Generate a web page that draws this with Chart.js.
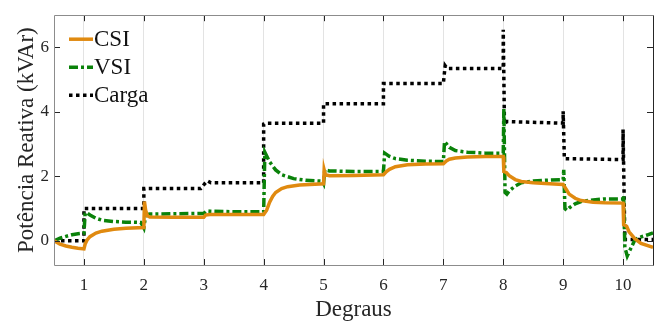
<!DOCTYPE html>
<html lang="pt">
<head>
<meta charset="UTF-8">
<title>Potência Reativa</title>
<script src="https://cdn.jsdelivr.net/npm/chart.js@4.4.1/dist/chart.umd.min.js"></script>
<style>
  html, body { margin: 0; padding: 0; background: #fff; }
  #wrap { width: 665px; height: 324px; }
</style>
</head>
<body>
<div id="wrap"><canvas id="c" width="665" height="324"></canvas></div>
<script>
// values (x = degrau, y = kVAr)
const xTicks = [1, 2, 3, 4, 5, 6, 7, 8, 9, 10]
const yTicks = [0, 2, 4, 6]

const csiX = [0.5, 0.6, 0.7, 0.8, 0.9, 1.0, 1.02, 1.05, 1.1, 1.2, 1.3, 1.5, 1.7, 2.0,
  2.01, 2.03, 2.06, 2.1, 2.5, 3.0, 3.03, 3.1, 3.5, 4.0,
  4.05, 4.1, 4.15, 4.2, 4.3, 4.4, 4.6, 5.0, 5.01, 5.03, 5.1, 5.5, 6.0,
  6.05, 6.1, 6.2, 6.4, 6.7, 7.0, 7.05, 7.1, 7.2, 7.4, 7.7, 8.0,
  8.01, 8.05, 8.1, 8.2, 8.3, 8.5, 8.7, 9.0, 9.05, 9.1, 9.2, 9.3, 9.5, 9.7, 10.0,
  10.01, 10.06, 10.1, 10.2, 10.3, 10.5]
const csiY = [0, -0.1, -0.16, -0.2, -0.23, -0.25, -0.1, 0.02, 0.13, 0.24, 0.3, 0.36, 0.39, 0.41,
  1.22, 0.95, 0.78, 0.74, 0.73, 0.73, 0.8, 0.82, 0.82, 0.82,
  0.95, 1.2, 1.38, 1.5, 1.62, 1.68, 1.73, 1.77, 2.2, 2.05, 2.02, 2.03, 2.05,
  2.15, 2.22, 2.3, 2.36, 2.38, 2.39, 2.48, 2.53, 2.57, 2.6, 2.62, 2.62,
  2.15, 2.12, 2.02, 1.9, 1.84, 1.8, 1.78, 1.75, 1.6, 1.45, 1.32, 1.25, 1.2, 1.18, 1.17,
  0.5, 0.45, 0.28, 0.06, -0.08, -0.2]

const vsiX = [0.5, 0.6, 0.7, 0.8, 0.9, 1.0, 1.02, 1.04, 1.1, 1.2, 1.3, 1.5, 1.7, 1.95, 2.0,
  2.03, 2.1, 2.5, 3.0, 3.05, 3.1, 3.5, 4.0,
  4.02, 4.1, 4.2, 4.3, 4.5, 4.7, 4.98, 5.0, 5.02, 5.1, 5.5, 6.0,
  6.02, 6.1, 6.2, 6.4, 6.7, 7.0, 7.02, 7.1, 7.2, 7.4, 7.7, 8.0,
  8.01, 8.03, 8.06, 8.1, 8.2, 8.3, 8.5, 8.7, 9.0,
  9.01, 9.03, 9.06, 9.1, 9.2, 9.3, 9.5, 9.7, 10.0,
  10.01, 10.03, 10.07, 10.1, 10.2, 10.3, 10.4, 10.5]
const vsiY = [0, 0.08, 0.14, 0.19, 0.22, 0.24, 0.85, 0.88, 0.8, 0.7, 0.64, 0.6, 0.58, 0.57, 0.4,
  0.8, 0.83, 0.84, 0.85, 0.93, 0.92, 0.9, 0.9,
  2.75, 2.45, 2.2, 2.05, 1.93, 1.88, 1.85, 1.78, 2.2, 2.17, 2.15, 2.15,
  2.72, 2.62, 2.55, 2.5, 2.47, 2.46, 3.08, 2.9, 2.8, 2.75, 2.72, 2.72,
  4.1, 1.5, 1.45, 1.55, 1.7, 1.8, 1.86, 1.88, 1.9,
  2.2, 1.0, 0.95, 1.02, 1.15, 1.22, 1.27, 1.3, 1.3,
  1.4, -0.2, -0.47, -0.35, 0.04, 0.12, 0.18, 0.25]

const cargaX = [0.5, 1.0, 1.0, 2.0, 2.0, 2.95, 3.02, 3.06, 3.12, 4.0, 4.0, 4.05, 5.0, 5.0, 6.0, 6.0, 7.0,
  7.03, 7.06, 8.0, 8.0, 8.02, 8.06, 9.0, 9.0, 9.02, 10.0, 10.0, 10.03, 10.5]
const cargaY = [0, 0, 1.0, 1.0, 1.62, 1.62, 1.78, 1.86, 1.8, 1.8, 3.62, 3.65, 3.65, 4.25, 4.25, 4.88, 4.88,
  5.43, 5.35, 5.35, 6.55, 3.62, 3.7, 3.65, 4.02, 2.55, 2.52, 3.45, 0.04, 0.04]

const seriesNames = ['CSI', 'VSI', 'Carga']

const pts = (xs, ys) => xs.map((x, i) => ({ x: x, y: ys[i] }))
const serif = '"Liberation Serif", "DejaVu Serif", serif'

// box, inward ticks and in-plot legend
const framePlugin = {
  id: 'frame',
  afterDatasetsDraw(chart) {
    const { ctx, chartArea: a, scales } = chart
    ctx.save()
    ctx.lineWidth = 1
    ctx.strokeStyle = '#262626'
    const tl = 6
    ctx.beginPath()
    xTicks.forEach(v => {
      const px = Math.round(scales.x.getPixelForValue(v)) + 0.5
      ctx.moveTo(px, a.bottom); ctx.lineTo(px, a.bottom - tl)
      ctx.moveTo(px, a.top); ctx.lineTo(px, a.top + tl)
    })
    yTicks.forEach(v => {
      const py = Math.round(scales.y.getPixelForValue(v)) + 0.5
      ctx.moveTo(a.left, py); ctx.lineTo(a.left + tl, py)
      ctx.moveTo(a.right, py); ctx.lineTo(a.right - tl, py)
    })
    ctx.stroke()
    ctx.strokeStyle = '#8c8c8c'
    ctx.beginPath()
    ctx.moveTo(Math.round(a.right) + 0.5, Math.round(a.top) + 0.5)
    ctx.lineTo(Math.round(a.left) + 0.5, Math.round(a.top) + 0.5)
    ctx.lineTo(Math.round(a.left) + 0.5, Math.round(a.bottom) + 0.5)
    ctx.lineTo(Math.round(a.right) + 0.5, Math.round(a.bottom) + 0.5)
    ctx.stroke()
    ctx.strokeStyle = '#262626'
    ctx.beginPath()
    ctx.moveTo(Math.round(a.right) + 0.5, Math.round(a.top) + 0.5)
    ctx.lineTo(Math.round(a.right) + 0.5, Math.round(a.bottom) + 0.5)
    ctx.stroke()

    // legend
    ctx.font = '23px ' + serif
    ctx.textBaseline = 'middle'
    ctx.fillStyle = '#111'
    chart.data.datasets.forEach((ds, i) => {
      const y = a.top + 24 + i * 28
      ctx.strokeStyle = ds.borderColor
      ctx.lineWidth = ds.borderWidth
      ctx.setLineDash(ds.borderDash || [])
      ctx.beginPath()
      ctx.moveTo(a.left + 15, y); ctx.lineTo(a.left + 39, y)
      ctx.stroke()
      ctx.setLineDash([])
      ctx.fillText(ds.label, a.left + 40, y + 1)
    })
    ctx.restore()
  }
}

new Chart(document.getElementById('c'), {
  type: 'line',
  data: {
    datasets: [
      { label: seriesNames[0], data: pts(csiX, csiY), borderColor: '#e08a10', borderWidth: 3.5, pointRadius: 0, tension: 0 },
      { label: seriesNames[1], data: pts(vsiX, vsiY), borderColor: '#0a820a', borderWidth: 3.5, borderDash: [9, 3, 3, 3], pointRadius: 0, tension: 0 },
      { label: seriesNames[2], data: pts(cargaX, cargaY), borderColor: '#000', borderWidth: 3.5, borderDash: [3.5, 3.5], pointRadius: 0, tension: 0 }
    ]
  },
  options: {
    responsive: false,
    animation: false,
    layout: { padding: { top: 9, right: 12, left: 0, bottom: 0 } },
    plugins: { legend: { display: false }, tooltip: { enabled: false } },
    scales: {
      x: {
        type: 'linear', min: 0.5, max: 10.5,
        afterBuildTicks: s => { s.ticks = xTicks.map(v => ({ value: v })) },
        afterFit: s => { s.height = 59 },
        grid: { color: '#e3e3e3', lineWidth: 1, drawTicks: false },
        border: { display: false },
        ticks: { font: { family: serif, size: 17 }, color: '#262626', padding: 10, maxRotation: 0 },
        title: { display: true, text: 'Degraus', font: { family: serif, size: 23 }, color: '#262626', padding: { top: 0, bottom: 0 } }
      },
      y: {
        min: -0.75, max: 7,
        afterBuildTicks: s => { s.ticks = yTicks.map(v => ({ value: v })) },
        afterFit: s => { s.width = 54 },
        grid: { display: false, drawTicks: false },
        border: { display: false },
        ticks: { font: { family: serif, size: 17 }, color: '#262626', padding: 5 },
        title: { display: true, text: 'Potência Reativa (kVAr)', font: { family: serif, size: 23 }, color: '#262626', padding: { top: 13, bottom: 0 } }
      }
    }
  },
  plugins: [framePlugin]
})
</script>
</body>
</html>
